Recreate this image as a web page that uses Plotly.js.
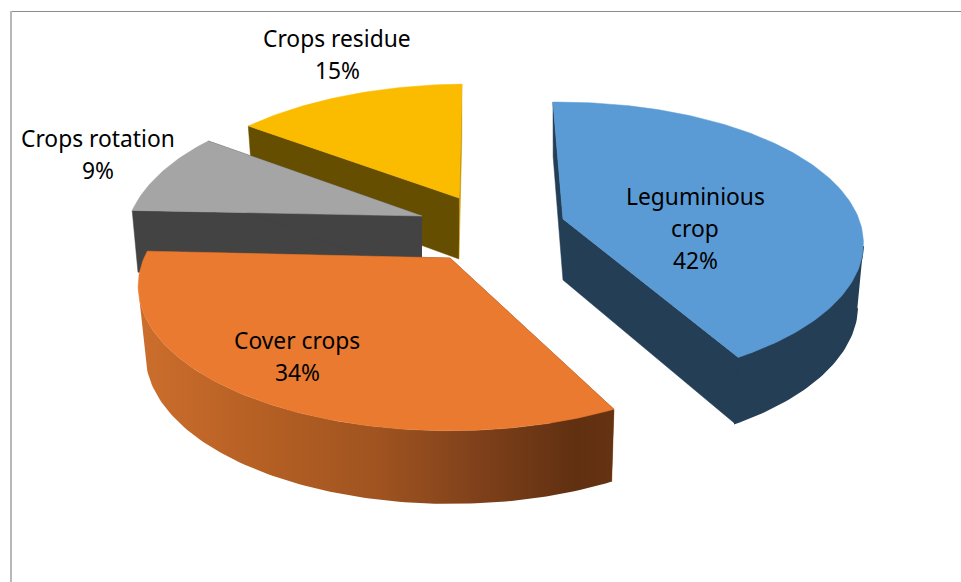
<!DOCTYPE html>
<html>
<head>
<meta charset="utf-8">
<script src="https://cdn.plot.ly/plotly-3.0.1.min.js"></script>
<style>html,body{margin:0;padding:0;background:#fff;overflow:hidden}#chart{width:961px;height:582px}</style>
</head>
<body>
<div id="chart"></div>
<script>
// Data
var categories = ["Leguminious<br>crop", "Cover crops", "Crops rotation", "Crops residue"];
var shares = [42, 34, 9, 15];

// Styling, one entry per slice
var topColors = ["#5b9bd5", "#e97a30", "#a5a5a5", "#fbbc00"];
var wallColors = ["#243e56", "#7c3f1a", "#434343", "#664e00"];
var orangeWallStops = [[0, "#cc6e2d"], [0.25, "#b66024"], [0.5, "#a05420"], [0.72, "#7e401a"], [0.92, "#603011"], [1, "#653312"]];

// Exploded position of each slice's tip on the page (pixel-scaled axes)
var apexX = [563, 450, 422, 459];
var apexY = [219, 258, 216, 198];
var labelX = [695, 297, 98, 337];
var labelY = [196, 340, 138, 38];
var lineGap = 32;

// 3-D view
var startDeg = -1.5, R = 306, C = 152, farP = 0.30, floorScale = 0.98;
// per-slice view corrections (the source's perspective shifts each exploded slice a little)
var nearPs = [0.08, 0.12, 0.12, 0.12];
var xScale = [0.98, 1.0, 0.909, 1.0];
var rimDX = [-4, 0, -14, 9];
var rimDY = [0, 0, 0, 3];
var startNudge = [0, 2, 0, 0];
var endNudge = [-3, 0.5, 0, 0];
var depths = [61, 66.5, 62, 61];
var floorShift = [0, 1, 0, 0];

function rim(deg, i, low) {
  var t = deg * Math.PI / 180, X = Math.sin(t), Y = -Math.cos(t);
  var p = nearPs[i] + (farP - nearPs[i]) * (1 - Y) / 2;
  var w = 1 / (1 - p * Y);
  var s = low ? floorScale : 1;
  var dx = (R * X * w * xScale[i] + rimDX[i]) * s + (low ? floorShift[i] : 0);
  var dy = C * Y * w + rimDY[i];
  return [apexX[i] + dx, apexY[i] + dy + (low ? depths[i] * (1 + 0.1 * Y) : 0)];
}
function apex(i, low) { return [apexX[i], apexY[i] + (low ? depths[i] : 0)]; }
function arc(a, b, i, low) {
  var pts = [], n = Math.max(8, Math.round(Math.abs(b - a)));
  for (var k = 0; k <= n; k++) pts.push(rim(a + (b - a) * k / n, i, low));
  return pts;
}
function poly(pts, color, extra) {
  var tr = {
    type: "scatter", mode: "lines", x: pts.map(function (p) { return p[0]; }), y: pts.map(function (p) { return p[1]; }),
    fill: "toself", fillcolor: color, line: { color: color, width: 0.5 }, hoverinfo: "skip", showlegend: false
  };
  for (var k in extra) tr[k] = extra[k];
  return tr;
}

var total = shares.reduce(function (a, b) { return a + b; }, 0);
var starts = [], ends = [], acc = startDeg;
shares.forEach(function (v, i) { starts.push(acc + startNudge[i]); acc += v / total * 360; ends.push(acc + endNudge[i]); });

var traces = [];
[3, 2, 1, 0].forEach(function (i) {
  var a = starts[i], b = ends[i];
  // radial cut faces
  traces.push(poly([apex(i), rim(a, i), rim(a, i, true), apex(i, true)], wallColors[i]));
  var endFaceColor = i === 3 ? "#c89600" : wallColors[i];
  traces.push(poly([apex(i), rim(b, i), rim(b, i, true), apex(i, true)], endFaceColor));
  // outer wall, only the part facing the viewer
  var wa = Math.max(a, 100), wb = Math.min(b, 259);
  if (wb > wa) {
    var wall = arc(wa, wb, i).concat(arc(wb, wa, i, true));
    var extra = i === 1 ? { fillgradient: { type: "horizontal", colorscale: orangeWallStops }, line: { width: 0 } } : { line: { color: wallColors[i], width: 1.5 } };
    traces.push(poly(wall, wallColors[i], extra));
  }
  // top face
  traces.push(poly([apex(i)].concat(arc(a, b, i)).concat([apex(i)]), topColors[i]));
});

var annotations = [];
categories.forEach(function (c, i) {
  var lines = c.split("<br>").concat([shares[i] + "%"]);
  lines.forEach(function (t, k) {
    annotations.push({
      x: labelX[i], y: labelY[i] + k * lineGap, xref: "x", yref: "y", text: t, showarrow: false,
      xanchor: "center", yanchor: "middle", font: { family: "'Noto Sans', sans-serif", size: 22.8, color: "#000" }
    });
  });
});

var layout = {
  width: 961, height: 582, margin: { l: 0, r: 0, t: 0, b: 0 }, paper_bgcolor: "#fff", plot_bgcolor: "#fff", showlegend: false,
  xaxis: { range: [0, 961], visible: false, fixedrange: true },
  yaxis: { range: [582, 0], visible: false, fixedrange: true },
  annotations: annotations,
  shapes: [
    { type: "line", x0: 10, x1: 961, y0: 11.5, y1: 11.5, line: { color: "#8c8c8c", width: 1 } },
    { type: "line", x0: 11, x1: 11, y0: 11, y1: 582, line: { color: "#b8b8b8", width: 2 } }
  ]
};
Plotly.newPlot("chart", traces, layout, { staticPlot: true, displayModeBar: false });
</script>
</body>
</html>
